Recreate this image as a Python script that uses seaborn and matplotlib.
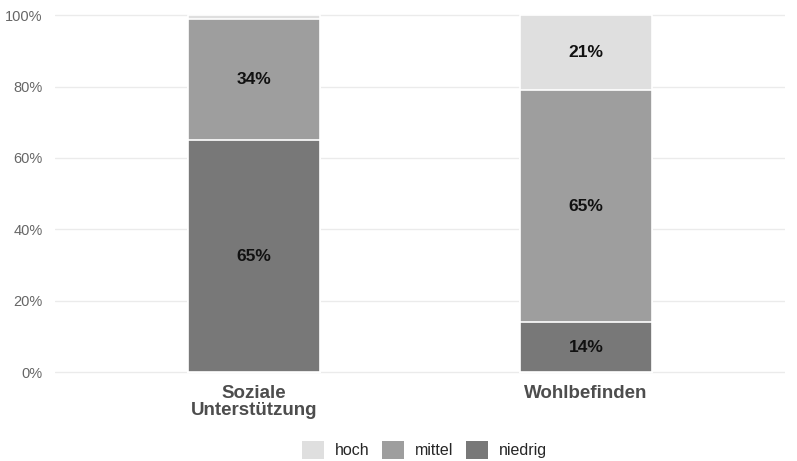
import numpy as np
import pandas as pd
import seaborn as sns
import matplotlib.pyplot as plt
from matplotlib.patches import Patch

categories = ["Soziale\nUnterstützung", "Wohlbefinden"]
levels = ["hoch", "mittel", "niedrig"]
hoch = [1, 21]
mittel = [34, 65]
niedrig = [65, 14]
colors = {"hoch": "#dfdfdf", "mittel": "#9e9e9e", "niedrig": "#787878"}

df = pd.DataFrame({
    "kategorie": categories * 3,
    "stufe": ["niedrig"] * 2 + ["mittel"] * 2 + ["hoch"] * 2,
    "anteil": niedrig + mittel + hoch,
})
df["oben"] = df.groupby("kategorie")["anteil"].cumsum()
df["mitte"] = df["oben"] - df["anteil"] / 2

sns.set_theme(style="whitegrid")
plt.rcParams["font.family"] = ["Liberation Sans", "DejaVu Sans"]

fig, ax = plt.subplots(figsize=(7.97, 4.61), dpi=100)
fig.subplots_adjust(left=0.069, right=0.985, bottom=0.185, top=0.975)

# draw the cumulative bars from top to bottom so each layer shows
for lvl in levels:
    sub = df[df["stufe"] == lvl]
    sns.barplot(data=sub, x="kategorie", y="oben", order=categories,
                color=colors[lvl], width=0.4, edgecolor="white",
                linewidth=1.2, saturation=1, ax=ax, zorder=2)

for _, row in df.iterrows():
    if row["anteil"] >= 5:
        ax.text(categories.index(row["kategorie"]), row["mitte"],
                f"{row['anteil']}%", ha="center", va="center",
                fontsize=12.5, fontweight="bold", color="#111111", zorder=3)

ax.set_xlim(-0.6, 1.6)
ax.set_ylim(-1, 101)
ax.set_yticks(range(0, 101, 20))
ax.set_yticklabels([f"{v}%" for v in range(0, 101, 20)])
ax.set_xlabel("")
ax.set_ylabel("")
ax.grid(axis="x", visible=False)
ax.grid(axis="y", color="#ebebeb", linewidth=1)
for s in ax.spines.values():
    s.set_visible(False)
ax.tick_params(axis="y", labelsize=10.5, labelcolor="#666666", pad=3)
ax.tick_params(axis="x", labelsize=13.5, labelcolor="#4d4d4d", pad=1)
for t in ax.get_xticklabels():
    t.set_fontweight("bold")
    t.set_linespacing(1.0)

handles = [Patch(facecolor=colors[l], edgecolor="none", label=l) for l in levels]
fig.legend(handles=handles, loc="center", bbox_to_anchor=(0.533, 0.024),
           ncol=3, frameon=False, fontsize=11.5, handlelength=1.35,
           handleheight=1.35, columnspacing=0.8, handletextpad=0.7)

fig.savefig("out.png", dpi=100)
